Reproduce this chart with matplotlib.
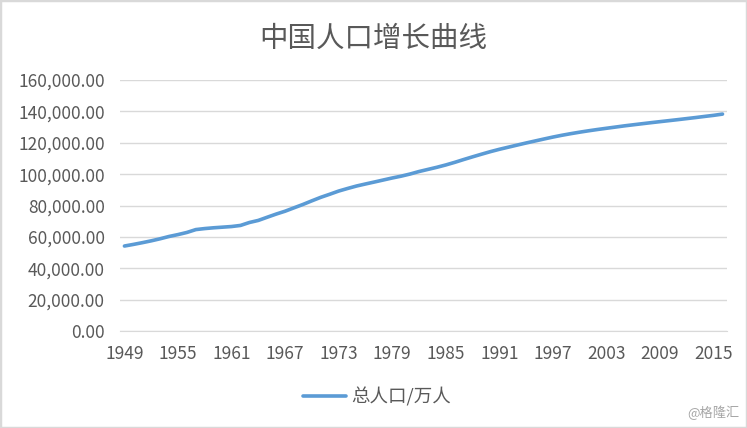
import matplotlib.pyplot as plt
from matplotlib.patches import Rectangle

plt.rcParams['font.family'] = ['Noto Sans CJK SC', 'DejaVu Sans']

years = list(range(1949, 2017))
population = [
    54167, 55196, 56300, 57482, 58796, 60266, 61465, 62828, 64653, 65300,
    65800, 66200, 66600, 67295, 69172, 70499, 72538, 74542, 76368, 78534,
    80671, 82992, 85229, 87177, 89211, 90859, 92420, 93717, 94974, 96259,
    97542, 98705, 100072, 101654, 103008, 104357, 105851, 107507, 109300, 111026,
    112704, 114333, 115823, 117171, 118517, 119850, 121121, 122389, 123626, 124761,
    125786, 126743, 127627, 128453, 129227, 129988, 130756, 131448, 132129, 132802,
    133450, 134091, 134735, 135404, 136072, 136782, 137462, 138271,
]
y_ticks = list(range(0, 160001, 20000))
title = '中国人口增长曲线'
series_name = '总人口/万人'

text_color = '#595959'
grid_color = '#d9d9d9'
line_color = '#5b9bd5'

fig = plt.figure(figsize=(7.47, 4.28), dpi=100)
ax = fig.add_axes([0.1606, 0.2266, 0.8126, 0.5865])

x = list(range(len(years)))
ax.plot(x, population, color=line_color, linewidth=2.6,
        solid_capstyle='round', label=series_name)

ax.set_xlim(-0.5, len(years) - 0.5)
ax.set_ylim(0, 160000)
ax.set_yticks(y_ticks)
ax.set_yticklabels([f'{v:,.2f}' for v in y_ticks])
ax.set_xticks(x[::6])
ax.set_xticklabels([str(y) for y in years[::6]])
ax.tick_params(axis='both', length=0, labelsize=12.5, colors=text_color)
ax.tick_params(axis='x', pad=10)
ax.tick_params(axis='y', pad=11)

ax.grid(axis='y', color=grid_color, linewidth=1)
ax.set_axisbelow(True)
for side in ['top', 'right', 'left']:
    ax.spines[side].set_visible(False)
ax.spines['bottom'].set_color(grid_color)

fig.text(0.5, 0.91, title, ha='center', va='center',
         fontsize=20.5, color=text_color)

leg = fig.legend(loc='center', bbox_to_anchor=(0.505, 0.072), frameon=False,
                 fontsize=13.3, handlelength=2.3, handletextpad=0.3)
for t in leg.get_texts():
    t.set_color(text_color)

fig.text(0.99, 0.035, '@格隆汇', ha='right', va='center',
         fontsize=9.5, color='#a6a6a6')

fig.patches.append(Rectangle((0, 0), 1, 1, transform=fig.transFigure,
                             fill=False, edgecolor=grid_color, linewidth=2.5))

fig.savefig('out.png', dpi=100)
